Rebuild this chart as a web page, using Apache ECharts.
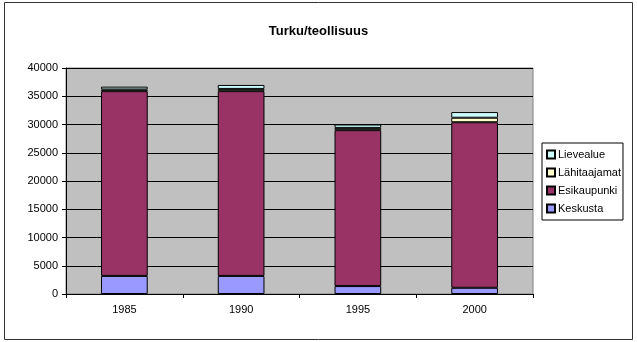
<!DOCTYPE html>
<html><head><meta charset="utf-8">
<script src="https://cdn.jsdelivr.net/npm/echarts@6/dist/echarts.min.js"></script>
<style>html,body{margin:0;padding:0;background:#fff}#c{width:637px;height:342px}</style>
</head><body><div id="c"></div>
<script>
const categories = ['1985', '1990', '1995', '2000'];
const keskusta = [3200, 3200, 1400, 1100];
const esikaupunki = [32700, 32700, 27600, 29300];
const lahitaajamat = [300, 400, 400, 800];
const lievealue = [500, 700, 600, 1000];
const seriesNames = ['Keskusta', 'Esikaupunki', 'Lähitaajamat', 'Lievealue'];
const colors = ['#9999FF', '#993366', '#FFFFCC', '#CCFFFF'];
const dataSets = [keskusta, esikaupunki, lahitaajamat, lievealue];

const chart = echarts.init(document.getElementById('c'), null, {renderer: 'canvas'});
const font = 'Liberation Sans, Arial, sans-serif';
chart.setOption({
  animation: false,
  title: {text: 'Turku/teollisuus', left: 'center', top: 20,
    textStyle: {fontFamily: font, fontSize: 13, fontWeight: 'bold', color: '#000'}},
  graphic: [{type: 'rect', shape: {x: 4.5, y: 2.5, width: 628, height: 337},
    style: {fill: null, stroke: '#333', lineWidth: 1}, silent: true}],
  grid: {left: 66, right: 104, top: 68, bottom: 48, backgroundColor: '#C0C0C0', show: true, borderColor: '#808080', borderWidth: 1},
  legend: {
    data: ['Lievealue', 'Lähitaajamat', 'Esikaupunki', 'Keskusta'],
    orient: 'vertical', left: 542, top: 143, itemWidth: 8, itemHeight: 8, itemGap: 7,
    padding: [6, 2, 6, 4], borderColor: '#000', borderWidth: 1,
    textStyle: {fontFamily: font, fontSize: 11, color: '#000', padding: [0, 0, 0, -2]},
    icon: 'rect'
  },
  xAxis: {type: 'category', data: categories,
    axisLine: {lineStyle: {color: '#000'}}, axisTick: {show: true, lineStyle: {color: '#000'}, length: 4},
    axisLabel: {fontFamily: font, fontSize: 11, color: '#000', margin: 10}},
  yAxis: {type: 'value', min: 0, max: 40000, interval: 5000,
    axisLine: {show: true, lineStyle: {color: '#000'}}, axisTick: {show: true, length: 4, lineStyle: {color: '#000'}},
    splitLine: {lineStyle: {color: '#000'}},
    axisLabel: {fontFamily: font, fontSize: 11, color: '#000', margin: 8, formatter: v => String(v)}},
  series: dataSets.map((d, i) => ({
    name: seriesNames[i], type: 'bar', stack: 'a', data: d, barWidth: '40%',
    itemStyle: {color: colors[i], borderColor: '#000', borderWidth: 1}
  }))
});
</script></body></html>
